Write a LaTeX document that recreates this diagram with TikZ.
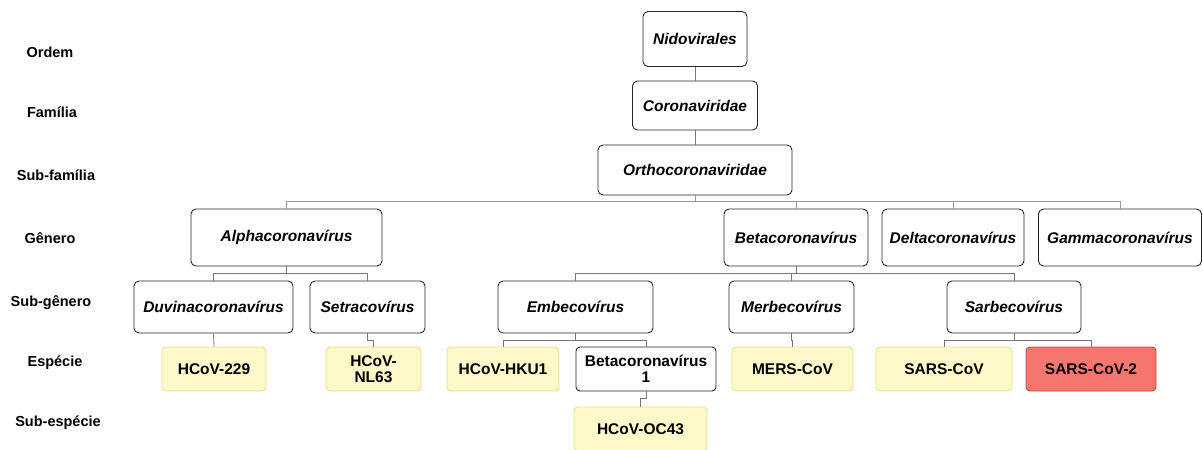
\documentclass[tikz,border=0pt]{standalone}
\usepackage{fontspec}
\setmainfont{Liberation Sans}
\definecolor{specfill}{RGB}{255,248,200}
\definecolor{specline}{RGB}{240,222,140}
\definecolor{covfill}{RGB}{244,118,110}
\definecolor{covline}{RGB}{196,72,62}
\definecolor{linkgray}{RGB}{120,120,120}
\begin{document}
\begin{tikzpicture}[x=1pt,y=-1pt,
    rank/.style={font=\fontsize{14.5}{16}\selectfont\bfseries},
    taxon/.style={draw=black!85,rounded corners=5pt,line width=0.9pt,inner sep=0pt,align=center,
        font=\fontsize{15.5}{17}\selectfont\bfseries\itshape},
    species/.style={draw=specline,fill=specfill,rounded corners=4pt,line width=0.9pt,inner sep=0pt,
        align=center,minimum height=44pt,font=\fontsize{15.5}{16}\selectfont\bfseries},
    link/.style={draw=linkgray,line width=0.8pt}]
\useasboundingbox (0,0) rectangle (1203,450);
% ranks
\node [rank] (r1) at (50,52) {Ordem};
\node [rank] (r2) at (52,112) {Família};
\node [rank] (r3) at (56,175) {Sub-família};
\node [rank] (r4) at (50,238) {Gênero};
\node [rank] (r5) at (51,303) {Sub-gênero};
\node [rank] (r6) at (55,363) {Espécie};
\node [rank] (r7) at (58,423) {Sub-espécie};
% upper levels
\node [taxon,minimum width=104pt,minimum height=55pt] (nido) at (695,39) {Nidovirales};
\node [taxon,minimum width=125pt,minimum height=49pt] (corona) at (695,105.5) {Coronaviridae};
\node [taxon,minimum width=194pt,minimum height=50pt] (ortho) at (695,170) {Orthocoronaviridae};
% genera
\node [taxon,minimum width=191pt,minimum height=57pt] (alpha) at (286.5,237.5) {Alphacoronavírus};
\node [taxon,minimum width=144pt,minimum height=57pt] (beta) at (796,237.5) {Betacoronavírus};
\node [taxon,minimum width=142pt,minimum height=57pt] (delta) at (953,237.5) {Deltacoronavírus};
\node [taxon,minimum width=163pt,minimum height=57pt] (gamma) at (1120,237.5) {Gammacoronavírus};
% subgenera
\node [taxon,minimum width=159pt,minimum height=52pt] (duvina) at (213.5,307) {Duvinacoronavírus};
\node [taxon,minimum width=115pt,minimum height=52pt] (setra) at (367.5,307) {Setracovírus};
\node [taxon,minimum width=155pt,minimum height=52pt] (embe) at (575.5,307) {Embecovírus};
\node [taxon,minimum width=125pt,minimum height=52pt] (merbe) at (791.5,307) {Merbecovírus};
\node [taxon,minimum width=134pt,minimum height=52pt] (sarbe) at (1014,307) {Sarbecovírus};
% species
\node [species,minimum width=104pt] (hcov229) at (214,369) {HCoV-229};
\node [species,minimum width=95pt] (nl63) at (373.5,369) {HCoV-\\NL63};
\node [species,minimum width=112pt] (hku1) at (503,369) {HCoV-HKU1};
\node [species,draw=black!85,fill=white,minimum width=140pt] (betaone) at (646,369) {Betacoronavírus\\1};
\node [species,minimum width=121pt] (mers) at (792.5,369) {MERS-CoV};
\node [species,minimum width=136pt] (sars) at (944,369) {SARS-CoV};
\node [species,draw=covline,fill=covfill,minimum width=130pt] (sarstwo) at (1091,369) {SARS-CoV-2};
\node [species,minimum width=133pt] (oc43) at (640.5,429) {HCoV-OC43};
% connectors
\coordinate (busG) at (0,201);
\coordinate (busS) at (0,273);
\coordinate (busE) at (0,340);
\coordinate (busO) at (0,398);
\draw [link] (nido) -- (corona);
\draw [link] (corona) -- (ortho);
\draw [link,draw=black!40] (ortho.south) -- (ortho.south |- busG);
\draw [link,draw=black!40] (alpha.north) -- (alpha.north |- busG) -| (gamma.north);
\draw [link,draw=black!40] (beta.north) -- (beta.north |- busG);
\draw [link,draw=black!40] (delta.north) -- (delta.north |- busG);
\draw [link] (alpha.south) -- (alpha.south |- busS);
\draw [link] (duvina.north) -- (duvina.north |- busS) -| (setra.north);
\draw [link] (beta.south) -- (beta.south |- busS);
\draw [link] (embe.north) -- (embe.north |- busS) -| (sarbe.north);
\draw [link] (merbe.north) -- (merbe.north |- busS);
\draw [link] (duvina.south) -- (hcov229.north);
\draw [link] (setra.south) -- (setra.south |- busE) -| (nl63.north);
\draw [link] (embe.south) -- (embe.south |- busE);
\draw [link] (hku1.north) -- (hku1.north |- busE) -| (betaone.north);
\draw [link] (merbe.south) -- (merbe.south |- busE) -| (mers.north);
\draw [link] (sarbe.south) -- (sarbe.south |- busE);
\draw [link] (sars.north) -- (sars.north |- busE) -| (sarstwo.north);
\draw [link] (betaone.south) -- (betaone.south |- busO) -| (oc43.north);
\end{tikzpicture}
\end{document}
